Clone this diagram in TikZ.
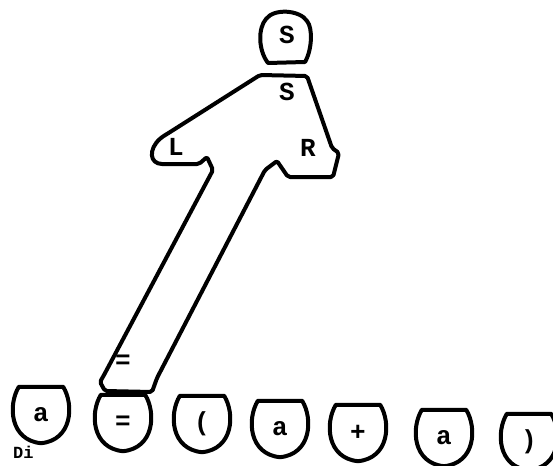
\documentclass[tikz,border=0pt]{standalone}
\usepackage{fontspec}
\setmonofont{Liberation Mono}
\usetikzlibrary{calc}
\tikzset{
  ink/.style={
    draw, line width=4pt, line join=round, line cap=round
  },
  sym/.style={
    font=\ttfamily\bfseries\fontsize{26}{26}\selectfont, inner sep=0pt
  },
  leaf/.style={
    sym, minimum width=56pt, minimum height=56pt
  },
}

\begin{document}
\begin{tikzpicture}[x=1pt, y=-1pt]
  \useasboundingbox (0,0) rectangle (553,465);
  \clip (0,0) rectangle (553,465);

  % --- root ---
  \node[sym] (root) at (287,35) {S};
  \draw[ink] (268,63) -- (305,62)
    .. controls (312,50) and (313,28) .. (307,21)
    .. controls (300,10) and (274,8) .. (266,19)
    .. controls (258,28) and (258,50) .. cycle;

  % --- production S -> L R, arm down to the = leaf ---
  \node[sym] (sprod) at (287,92) {S};
  \node[sym] (lsym) at (176,147) {L};
  \node[sym] (rsym) at (308,148) {R};
  \node[sym] (eqarm) at (123,362) {=};

  \draw[ink, rounded corners=2pt] (260,75) -- (307,76)
    -- (332,148) -- (339,153) -- (333,177)
    -- (288,177) -- (277,161) -- (265,170)
    -- (157,378) -- (152,392)
    -- (105,391) -- (100,382) -- (104,375)
    -- (213,170) -- (207,157) -- (199,164)
    -- (160,164) .. controls (148,160) and (150,144) .. (167,134)
    -- cycle;

  % --- leaves ---
  \node[leaf] (a1) at (41,415) {a};
  \node[leaf] (eq) at (123,423) {=};
  \node[leaf] (lp) at (202,424) {(};
  \node[leaf] (a2) at (280,429) {a};
  \node[leaf] (plus) at (358,433) {+};
  \node[leaf] (a3) at (444,438) {a};
  \node[leaf] (rp) at (529,442) {)};

  \foreach \n in {a1,eq,lp,a2,plus,a3,rp}
    \draw[ink] ($(\n.north west)+(6,0)$) -- ($(\n.north east)+(-6,0)$)
      .. controls ($(\n.east)+(5,-10)$) and ($(\n.south east)+(3,-3)$) .. (\n.south)
      .. controls ($(\n.south west)+(-3,-3)$) and ($(\n.west)+(-5,-10)$) .. cycle;

  % caption at the foot
  \node[sym, font=\ttfamily\bfseries\fontsize{17}{17}\selectfont,
    anchor=base west] (capt) at (13,458) {Di};
\end{tikzpicture}
\end{document}
